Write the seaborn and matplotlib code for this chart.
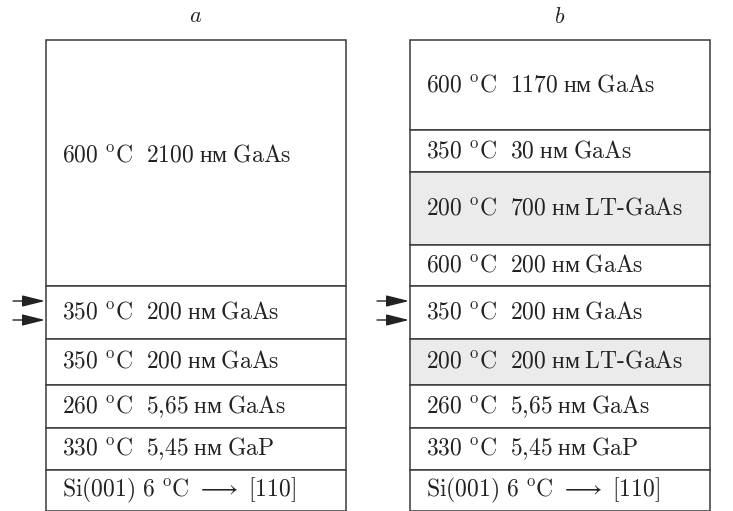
import matplotlib
matplotlib.use("Agg")
import matplotlib.pyplot as plt
import seaborn as sns

# ------ layer stacks (top to bottom) ------
def lay(t, d, mat):
    # temperature, thickness (nm), material -> label text
    return rf"$\mathrm{{{t}\ {{}}^{{o}}C\ \ {d}}}$ нм $\mathrm{{{mat}}}$"

si_label = r"$\mathrm{Si(001)\ 6\ {}^{o}C\ \longrightarrow\ [110]}$"

labels_a = [lay(600, 2100, "GaAs"), lay(350, 200, "GaAs"), lay(350, 200, "GaAs"),
            lay(260, "5{,}65", "GaAs"), lay(330, "5{,}45", "GaP"), si_label]
heights_a = [246, 53, 46, 43, 42, 41]
shaded_a = [False, False, False, False, False, False]

labels_b = [lay(600, 1170, "GaAs"), lay(350, 30, "GaAs"), lay(200, 700, "LT\\text{-}GaAs"),
            lay(600, 200, "GaAs"), lay(350, 200, "GaAs"), lay(200, 200, "LT\\text{-}GaAs"),
            lay(260, "5{,}65", "GaAs"), lay(330, "5{,}45", "GaP"), si_label]
heights_b = [90, 42, 73, 41, 53, 46, 43, 42, 41]
shaded_b = [False, False, True, False, False, True, False, False, False]

# arrows point at this layer (index in each stack)
arrow_layer = {"a": 1, "b": 4}

sns.set_style("white")
plt.rcParams["font.family"] = ["Liberation Serif", "DejaVu Serif"]
plt.rcParams["mathtext.fontset"] = "cm"

fig = plt.figure(figsize=(7.33, 5.11), dpi=100)
ax = fig.add_axes([0, 0, 1, 1])
ax.set_xlim(0, 733)
ax.set_ylim(511, 0)
ax.axis("off")

top = 40
box_w = 300
panels = [("a", 46, labels_a, heights_a, shaded_a),
          ("b", 410, labels_b, heights_b, shaded_b)]

for name, x0, labels, heights, shaded in panels:
    bottoms = [top + sum(heights[:i]) for i in range(len(heights))]
    colors = ["#ebebeb" if s else "white" for s in shaded]
    ax.bar(x0 + box_w / 2, heights, bottom=bottoms, width=box_w,
           color=colors, edgecolor="#3a3a3a", linewidth=1.1)
    for lab, b, h in zip(labels, bottoms, heights):
        yc = b + h / 2
        if h > 200:
            yc -= 8  # big top layer: label sits a bit high
        ax.text(x0 + 16, yc, lab, fontsize=17, va="center", ha="left",
                color="#222222")
    ax.text(x0 + box_w / 2, 18, f"${name}$", fontsize=16,
            ha="center", va="center", color="#222222")

    # two arrows at the marked layer
    i = arrow_layer[name]
    b = bottoms[i]
    for yy in (b + 15, b + 34):
        ax.annotate("", xy=(x0 - 1, yy), xytext=(x0 - 33, yy),
                    arrowprops=dict(arrowstyle="-|>,head_length=1.4,head_width=0.35",
                                    color="#222222", lw=1.0, shrinkA=0, shrinkB=0))

fig.savefig("out.png", dpi=100)
